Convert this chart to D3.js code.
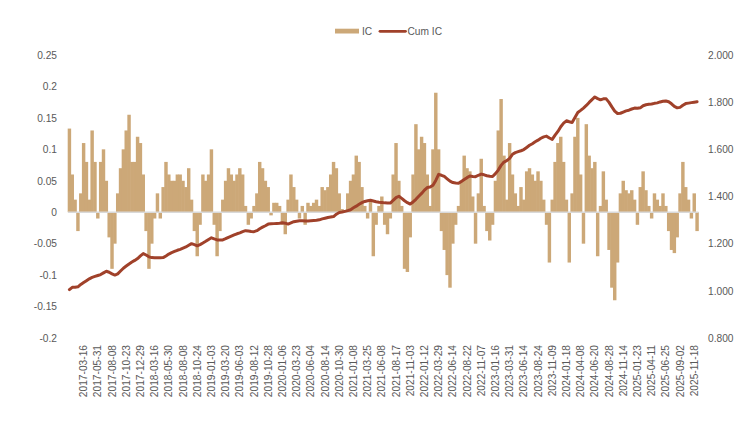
<!DOCTYPE html>
<html>
<head>
<meta charset="utf-8">
<script src="https://cdn.jsdelivr.net/npm/d3@7"></script>
<style>
  html, body { margin: 0; padding: 0; background: #fff; }
  svg { display: block; font-family: "Liberation Sans", Arial, sans-serif; }
  .tick text, .legend text { fill: #595959; font-size: 10.2px; }
</style>
</head>
<body>
<svg id="chart" width="747" height="435"></svg>
<script>
// rolling IC, one value per ~10 trading days
const icValues = [
  0.133, 0.06, 0.02, -0.03, 0.03, 0.11, 0.08, 0.02, 0.13, 0.08,
  -0.01, 0.08, 0.10, 0.05, -0.04, -0.09, -0.05, 0.03, 0.07, 0.10,
  0.13, 0.155, 0.08, 0.08, 0.12, 0.11, 0.06, -0.03, -0.09, -0.05,
  -0.01, 0.03, -0.01, 0.04, 0.08, 0.06, 0.05, 0.05, 0.06, 0.06,
  0.05, 0.04, 0.07, 0.02, -0.03, -0.07, -0.02, 0.06, 0.05, 0.06,
  0.10, -0.02, -0.07, -0.03, 0.02, 0.05, 0.07, 0.06, 0.05, 0.06,
  0.07, 0.06, 0.01, -0.02, -0.01, 0.01, 0.03, 0.08, 0.07, 0.05,
  0.04, -0.005, 0.015, 0.015, 0.01, -0.02, -0.035, 0.02, 0.06, 0.04,
  0.02, -0.01, 0.01, -0.02, 0.015, 0.01, 0.015, 0.02, 0.01, 0.04,
  0.035, 0.04, 0.06, 0.08, 0.07, 0.03, 0.005, 0.00, 0.03, 0.05,
  0.06, 0.09, 0.08, 0.04, 0.01, -0.01, 0.02, -0.07, -0.02, 0.01,
  0.025, -0.02, -0.035, -0.01, 0.06, 0.11, 0.05, 0.01, -0.09, -0.095,
  -0.04, 0.06, 0.14, 0.10, 0.12, 0.11, 0.06, 0.01, 0.10, 0.19,
  0.10, -0.03, -0.06, -0.10, -0.12, -0.05, -0.02, 0.01, 0.05, 0.09,
  0.07, 0.065, 0.025, -0.05, 0.03, 0.085, 0.01, -0.03, -0.045, -0.02,
  0.05, 0.13, 0.18, 0.09, 0.02, 0.11, 0.06, 0.03, 0.01, 0.04,
  0.02, 0.065, 0.07, 0.06, 0.05, 0.065, 0.05, 0.02, -0.02, -0.08,
  0.02, 0.08, 0.11, 0.12, 0.08, 0.02, -0.08, 0.03, 0.12, 0.15,
  0.06, -0.05, 0.14, 0.09, 0.07, 0.08, -0.07, 0.01, 0.065, 0.02,
  -0.06, -0.12, -0.14, -0.08, 0.03, 0.05, 0.035, 0.03, 0.035, 0.02,
  -0.02, 0.04, 0.065, 0.035, 0.01, -0.01, 0.03, 0.02, 0.01, 0.03,
  0.01, -0.03, -0.06, -0.065, -0.04, 0.03, 0.08, 0.04, 0.02, -0.01,
  0.03, -0.03
];

const cumIcValues = [
  1.005, 1.015, 1.015, 1.017, 1.027, 1.035, 1.043, 1.051, 1.057, 1.061,
  1.065, 1.069, 1.076, 1.083, 1.079, 1.072, 1.067, 1.072, 1.084, 1.096,
  1.105, 1.114, 1.122, 1.129, 1.137, 1.148, 1.158, 1.152, 1.144, 1.141,
  1.140, 1.140, 1.140, 1.141, 1.148, 1.156, 1.162, 1.167, 1.172, 1.176,
  1.181, 1.186, 1.193, 1.200, 1.196, 1.191, 1.196, 1.203, 1.210, 1.218,
  1.225, 1.220, 1.216, 1.216, 1.216, 1.221, 1.227, 1.232, 1.237, 1.242,
  1.246, 1.251, 1.255, 1.254, 1.252, 1.251, 1.255, 1.263, 1.270, 1.276,
  1.283, 1.284, 1.285, 1.286, 1.287, 1.289, 1.287, 1.283, 1.288, 1.293,
  1.295, 1.297, 1.297, 1.296, 1.296, 1.297, 1.298, 1.299, 1.301, 1.305,
  1.308, 1.311, 1.313, 1.315, 1.325, 1.332, 1.334, 1.337, 1.340, 1.344,
  1.352, 1.359, 1.367, 1.374, 1.379, 1.382, 1.384, 1.381, 1.378, 1.376,
  1.375, 1.373, 1.372, 1.372, 1.384, 1.395, 1.401, 1.392, 1.382, 1.374,
  1.368, 1.377, 1.388, 1.401, 1.413, 1.427, 1.438, 1.440, 1.448, 1.468,
  1.494, 1.490, 1.485, 1.475, 1.465, 1.459, 1.457, 1.456, 1.464, 1.472,
  1.480, 1.487, 1.485, 1.484, 1.490, 1.495, 1.492, 1.488, 1.486, 1.485,
  1.497, 1.512, 1.532, 1.546, 1.552, 1.562, 1.579, 1.586, 1.590, 1.594,
  1.599, 1.608, 1.617, 1.624, 1.632, 1.639, 1.647, 1.653, 1.656, 1.648,
  1.642, 1.660, 1.676, 1.696, 1.711, 1.721, 1.717, 1.714, 1.735, 1.756,
  1.765, 1.775, 1.786, 1.799, 1.811, 1.822, 1.815, 1.810, 1.814, 1.814,
  1.799, 1.780, 1.762, 1.752, 1.753, 1.758, 1.763, 1.766, 1.771, 1.775,
  1.774, 1.776, 1.785, 1.789, 1.791, 1.792, 1.795, 1.797, 1.801, 1.804,
  1.805, 1.802, 1.793, 1.782, 1.776, 1.778, 1.787, 1.794, 1.796, 1.798,
  1.800, 1.802
];

const tickLabels = [
  '2017-03-16', '2017-05-31', '2017-08-08', '2017-10-23', '2017-12-29',
  '2018-03-16', '2018-05-30', '2018-08-08', '2018-10-24', '2019-01-03',
  '2019-03-20', '2019-06-03', '2019-08-12', '2019-10-28', '2020-01-06',
  '2020-03-23', '2020-06-04', '2020-08-14', '2020-10-30', '2021-01-08',
  '2021-03-25', '2021-06-08', '2021-08-17', '2021-11-03', '2022-01-12',
  '2022-03-29', '2022-06-14', '2022-08-22', '2022-11-07', '2023-01-16',
  '2023-03-31', '2023-06-14', '2023-08-24', '2023-11-09', '2024-01-18',
  '2024-04-08', '2024-06-20', '2024-08-28', '2024-11-14', '2025-01-23',
  '2025-04-11', '2025-06-25', '2025-09-02', '2025-11-18'
];
const firstTick = 5, tickEvery = 5;

const leftTicks = [-0.2, -0.15, -0.1, -0.05, 0, 0.05, 0.1, 0.15, 0.2, 0.25];
const rightTicks = [0.8, 1.0, 1.2, 1.4, 1.6, 1.8, 2.0];

const barColor = '#CCA878', lineColor = '#A0412A';
const svg = d3.select('#chart');
const plotLeft = 68, plotRight = 698.5, plotTop = 55, plotBottom = 338;

const x = d3.scaleBand().domain(d3.range(icValues.length)).range([plotLeft, plotRight]).padding(0);
const yL = d3.scaleLinear().domain([-0.2, 0.25]).range([plotBottom, plotTop]);
const yR = d3.scaleLinear().domain([0.8, 2.0]).range([plotBottom, plotTop]);
const bw = x.bandwidth();

// slight overlap so neighbouring bars read as one dense area
svg.append('g').selectAll('rect')
  .data(icValues).enter().append('rect')
  .attr('x', (d, i) => x(i) - 0.3)
  .attr('width', bw + 0.6)
  .attr('y', d => yL(Math.max(0, d)))
  .attr('height', d => Math.abs(yL(d) - yL(0)))
  .attr('fill', barColor);

svg.append('line')
  .attr('x1', plotLeft).attr('x2', plotRight)
  .attr('y1', yL(0)).attr('y2', yL(0))
  .attr('stroke', '#D9D9D9').attr('stroke-width', 1.5);

svg.append('path')
  .datum(cumIcValues)
  .attr('fill', 'none')
  .attr('stroke', lineColor)
  .attr('stroke-width', 3)
  .attr('stroke-linejoin', 'round')
  .attr('stroke-linecap', 'round')
  .attr('d', d3.line().x((d, i) => x(i) + bw / 2).y(d => yR(d)));

const gl = svg.append('g').attr('transform', `translate(${plotLeft},0)`)
  .call(d3.axisLeft(yL).tickValues(leftTicks).tickSize(0).tickPadding(11)
    .tickFormat(d => String(+d.toFixed(2))));
gl.select('.domain').remove();

const gr = svg.append('g').attr('transform', `translate(${plotRight - 0.5},0)`)
  .call(d3.axisRight(yR).tickValues(rightTicks).tickSize(0).tickPadding(10)
    .tickFormat(d3.format('.3f')));
gr.select('.domain').remove();

const tickIdx = tickLabels.map((_, k) => firstTick + k * tickEvery);
const gx = svg.append('g').attr('transform', 'translate(0,345)')
  .call(d3.axisBottom(x).tickValues(tickIdx).tickSize(0)
    .tickFormat(i => tickLabels[(i - firstTick) / tickEvery]));
gx.select('.domain').remove();
gx.selectAll('text')
  .attr('transform', 'rotate(-90)')
  .attr('x', 0).attr('y', 0).attr('dy', '0.35em')
  .attr('text-anchor', 'end');

svg.selectAll('.tick text').attr('font-family', null).attr('font-size', null);

const legend = svg.append('g').attr('class', 'legend');
legend.append('rect').attr('x', 335).attr('y', 28.7).attr('width', 24).attr('height', 4.8).attr('fill', barColor);
legend.append('text').attr('x', 362).attr('y', 31).attr('dy', '0.35em').text('IC');
legend.append('line').attr('x1', 380).attr('x2', 405.5).attr('y1', 31.3).attr('y2', 31.3)
  .attr('stroke', lineColor).attr('stroke-width', 2.8).attr('stroke-linecap', 'round');
legend.append('text').attr('x', 407.5).attr('y', 31).attr('dy', '0.35em').text('Cum IC');
</script>
</body>
</html>
